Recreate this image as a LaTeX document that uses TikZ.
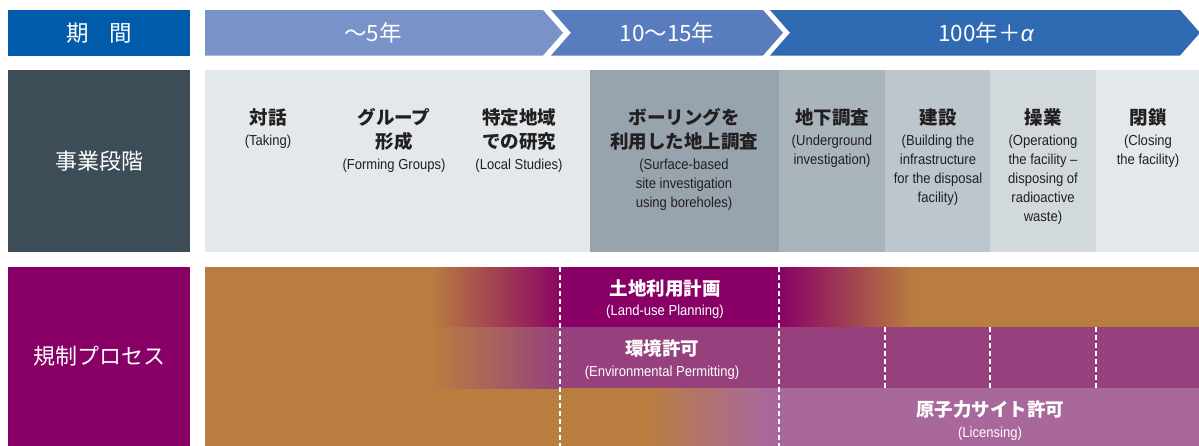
\documentclass[tikz,border=0pt]{standalone}
\usepackage{fontspec}
\newfontfamily\jp{Noto Sans CJK JP}
\newfontfamily\en[FakeStretch=0.9]{Liberation Sans}
\newfontfamily\lib{Liberation Sans}
\usetikzlibrary{positioning}
\definecolor{navy}{HTML}{005BAA}
\definecolor{barA}{HTML}{7992C8}
\definecolor{barB}{HTML}{587CBD}
\definecolor{barC}{HTML}{2F6AB3}
\definecolor{slate}{HTML}{3D4D57}
\definecolor{paleA}{HTML}{E3E8EB}
\definecolor{paleB}{HTML}{98A4AD}
\definecolor{paleC}{HTML}{A9B4BB}
\definecolor{paleD}{HTML}{BCC6CC}
\definecolor{paleE}{HTML}{D1D9DD}
\definecolor{ink}{HTML}{231F20}
\definecolor{plum}{HTML}{880066}
\definecolor{ochre}{HTML}{B97E3F}
\definecolor{mauve}{HTML}{96417E}
\definecolor{rose}{HTML}{A9689B}

\begin{document}
\begin{tikzpicture}[
    x=1pt, y=-1pt,
    every node/.style={inner sep=0pt},
    hdr/.style ={text=white, font=\jp\fontsize{22.5}{26}\selectfont},
    side/.style={text=white, font=\jp\fontsize{22}{26}\selectfont},
    ttl/.style ={anchor=base, align=center, text=ink,
                 font=\jp\bfseries\fontsize{18.5}{24.3}\selectfont},
    sub/.style ={anchor=base, align=center, text=ink,
                 font=\en\fontsize{14.5}{19}\selectfont},
    regj/.style={anchor=base, align=center, text=white,
                 font=\jp\bfseries\fontsize{18.5}{24.3}\selectfont},
    rege/.style={anchor=base, align=center, text=white,
                 font=\en\fontsize{14.5}{19}\selectfont},
    gridline/.style={white, line width=1.6pt, dash pattern=on 5pt off 3pt},
]
\useasboundingbox (0,0) rectangle (1199,445);

\fill[navy]  (8,10) rectangle (190,55.5);
\fill[slate] (8,70) rectangle (190,252);
\fill[plum]  (8,267) rectangle (190,447);

\begin{scope}
\clip (0,0) rectangle (1199,445);
\fill[barA] (205,10) -- (543,10) -- (563,32.75) -- (543,55.5) -- (205,55.5) -- cycle;
\fill[barB] (551,10) -- (763,10) -- (783,32.75) -- (763,55.5) -- (551,55.5)
            -- (571,32.75) -- cycle;
\fill[barC] (770,10) -- (1180,10) -- (1200,32.75) -- (1180,55.5) -- (770,55.5)
            -- (790,32.75) -- cycle;
\end{scope}

\fill[paleA] (205,70) rectangle (1199,252);
\fill[paleB] (590,70) rectangle (779,252);
\fill[paleC] (779,70) rectangle (885,252);
\fill[paleD] (885,70) rectangle (990,252);
\fill[paleE] (990,70) rectangle (1096,252);

\fill[ochre] (205,267) rectangle (1199,447);
\shade[left color=ochre, right color=plum] (430,267) rectangle (566,327);
\fill[plum] (566,267) rectangle (779,327);
\shade[left color=plum, right color=ochre] (779,267) rectangle (915,327);
\shade[left color=ochre, right color=mauve] (430,327) rectangle (562,388);
\fill[mauve] (562,327) rectangle (1199,388);
\shade[left color=ochre, right color=rose] (645,388) rectangle (765,447);
\fill[rose] (765,388) rectangle (1199,447);

\draw[gridline] (560,267) -- (560,447);
\draw[gridline] (779,267) -- (779,447);
\draw[gridline] (885,327) -- (885,388);
\draw[gridline] (990,327) -- (990,388);
\draw[gridline] (1096,327) -- (1096,388);

\node[hdr] (kikan) at (99,32.75)  {期\hspace{0.9em}間};
\node[hdr] (early) at (373,32.75) {～5年};
\node[hdr] (mid)   at (667,32.75) {10～15年};
\node[hdr] (late)  at (986,32.75) {100年＋{\lib\itshape α}};

\node[side] (jigyo) at (99,161) {事業段階};
\node[side] (kisei) at (99,356) {規制プロセス};

\node[ttl] (taiwa)       at (268,124)    {対話};
\node[sub] (taiwa-en)    at (268,145.5)  {(Taking)};
\node[ttl] (group)       at (394,148.3)  {グループ\\形成};
\node[sub] (group-en)    at (394,169)    {(Forming Groups)};
\node[ttl] (chiiki)      at (519,148.3)  {特定地域\\での研究};
\node[sub] (chiiki-en)   at (519,169)    {(Local Studies)};
\node[ttl] (boring)      at (684,148.3)  {ボーリングを\\利用した地上調査};
\node[sub] (boring-en)   at (684,207)    {(Surface-based\\site investigation\\using boreholes)};
\node[ttl] (chika)       at (832,124)    {地下調査};
\node[sub] (chika-en)    at (832,164.5)  {(Underground\\investigation)};
\node[ttl] (kensetsu)    at (938,124)    {建設};
\node[sub] (kensetsu-en) at (938,202.5)  {(Building the\\infrastructure\\for the disposal\\facility)};
\node[ttl] (sogyo)       at (1043,124)   {操業};
\node[sub] (sogyo-en)    at (1043,221.5) {(Operationg\\the facility –\\disposing of\\radioactive\\waste)};
\node[ttl] (heisa)       at (1148,124)   {閉鎖};
\node[sub] (heisa-en)    at (1148,164.5) {(Closing\\the facility)};

\node[regj] (tochi)     at (665,295) {土地利用計画};
\node[rege] (tochi-en)  at (665,315) {(Land-use Planning)};
\node[regj] (kankyo)    at (662,355) {環境許可};
\node[rege] (kankyo-en) at (662,376) {(Environmental Permitting)};
\node[regj] (genshi)    at (990,416) {原子力サイト許可};
\node[rege] (genshi-en) at (990,437) {(Licensing)};
\end{tikzpicture}
\end{document}
